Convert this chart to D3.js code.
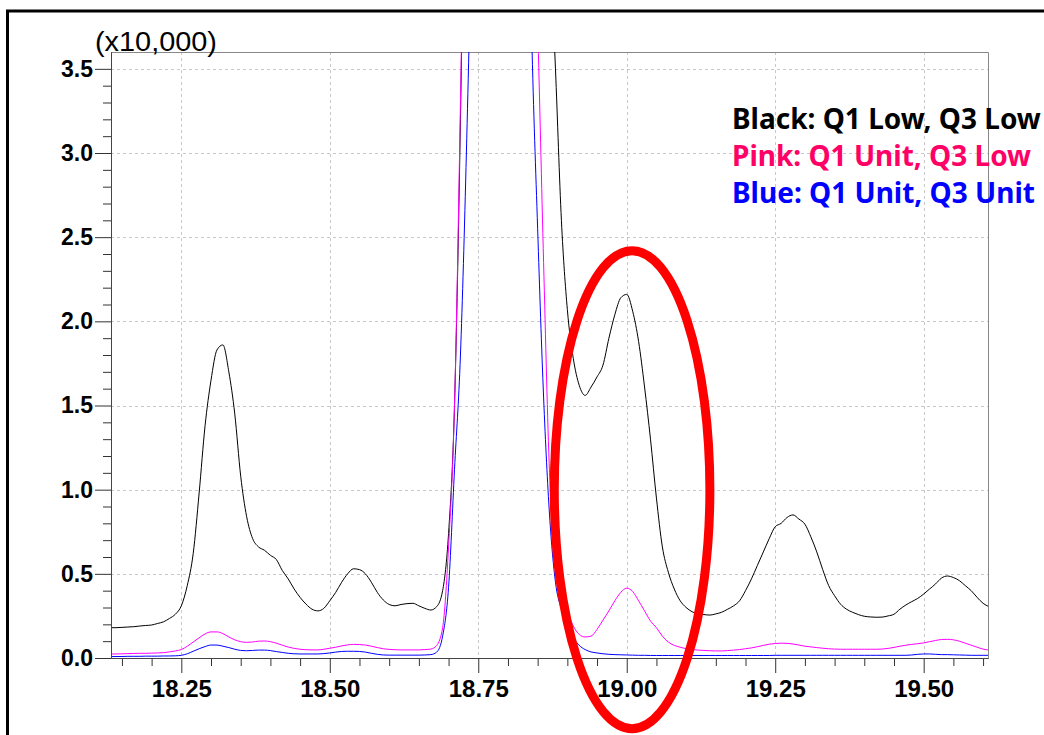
<!DOCTYPE html>
<html>
<head>
<meta charset="utf-8">
<script src="https://cdn.jsdelivr.net/npm/d3@7"></script>
<style>
  body { margin: 0; background: #fff; }
</style>
</head>
<body>
<script>
const canvWidth = 1044, canvHeight = 735;
const plot = {left: 111, right: 988, top: 52, bottom: 658};

// retention time (min)
const times = [
  18.13, 18.14, 18.15, 18.16, 18.17, 18.18, 18.19, 18.20, 18.21, 18.22,
  18.23, 18.24, 18.25, 18.26, 18.27, 18.28, 18.29, 18.30, 18.31, 18.32,
  18.33, 18.34, 18.35, 18.36, 18.37, 18.38, 18.39, 18.40, 18.41, 18.42,
  18.43, 18.44, 18.45, 18.46, 18.47, 18.48, 18.49, 18.50, 18.51, 18.52,
  18.53, 18.54, 18.55, 18.56, 18.57, 18.58, 18.59, 18.60, 18.61, 18.62,
  18.63, 18.64, 18.65, 18.66, 18.67, 18.68, 18.69, 18.70, 18.71, 18.72,
  18.73, 18.74, 18.75, 18.76, 18.77, 18.78, 18.79, 18.80, 18.81, 18.82,
  18.83, 18.84, 18.85, 18.86, 18.87, 18.88, 18.89, 18.90, 18.91, 18.92,
  18.93, 18.94, 18.95, 18.96, 18.97, 18.98, 18.99, 19.00, 19.01, 19.02,
  19.03, 19.04, 19.05, 19.06, 19.07, 19.08, 19.09, 19.10, 19.11, 19.12,
  19.13, 19.14, 19.15, 19.16, 19.17, 19.18, 19.19, 19.20, 19.21, 19.22,
  19.23, 19.24, 19.25, 19.26, 19.27, 19.28, 19.29, 19.30, 19.31, 19.32,
  19.33, 19.34, 19.35, 19.36, 19.37, 19.38, 19.39, 19.40, 19.41, 19.42,
  19.43, 19.44, 19.45, 19.46, 19.47, 19.48, 19.49, 19.50, 19.51, 19.52,
  19.53, 19.54, 19.55, 19.56, 19.57, 19.58, 19.59, 19.60, 19.61
];

// intensities in units of 10,000
const blackQ1LowQ3Low = [
  0.18, 0.18, 0.182, 0.184, 0.186, 0.19, 0.193, 0.196, 0.205, 0.215,
  0.235, 0.26, 0.31, 0.43, 0.62, 0.98, 1.38, 1.65, 1.83, 1.86,
  1.70, 1.45, 1.08, 0.84, 0.71, 0.66, 0.64, 0.61, 0.585, 0.52,
  0.47, 0.41, 0.36, 0.32, 0.29, 0.28, 0.295, 0.34, 0.39, 0.45,
  0.50, 0.53, 0.525, 0.50, 0.45, 0.39, 0.345, 0.318, 0.31, 0.318,
  0.323, 0.325, 0.31, 0.295, 0.285, 0.305, 0.40, 0.74, 1.5, 3.2,
  5.6, 8.5, 11.0, 13.0, 14.0, 14.2, 13.8, 12.8, 11.2, 9.6,
  8.2, 7.0, 6.0, 5.1, 4.3, 3.5, 2.6, 2.07, 1.78, 1.62,
  1.56, 1.61, 1.67, 1.74, 1.90, 2.04, 2.14, 2.16, 2.06, 1.88,
  1.61, 1.30, 0.95, 0.66, 0.51, 0.41, 0.34, 0.30, 0.275, 0.262,
  0.258, 0.255, 0.262, 0.272, 0.29, 0.31, 0.34, 0.40, 0.47, 0.55,
  0.63, 0.71, 0.78, 0.80, 0.835, 0.85, 0.825, 0.795, 0.72, 0.63,
  0.525, 0.43, 0.37, 0.32, 0.29, 0.272, 0.258, 0.248, 0.244, 0.242,
  0.243, 0.25, 0.26, 0.29, 0.315, 0.335, 0.354, 0.38, 0.41, 0.44,
  0.475, 0.487, 0.478, 0.46, 0.43, 0.40, 0.36, 0.325, 0.305
];

const pinkQ1UnitQ3Low = [
  0.024, 0.024, 0.025, 0.026, 0.027, 0.028, 0.028, 0.029, 0.030, 0.032,
  0.036, 0.042, 0.05, 0.07, 0.095, 0.12, 0.143, 0.155, 0.155, 0.145,
  0.125, 0.108, 0.097, 0.093, 0.095, 0.1, 0.101, 0.097, 0.088, 0.076,
  0.065, 0.057, 0.052, 0.049, 0.048, 0.048, 0.052, 0.058, 0.064, 0.072,
  0.078, 0.081, 0.08, 0.077, 0.07, 0.062, 0.055, 0.051, 0.049, 0.048,
  0.048, 0.048, 0.048, 0.05, 0.053, 0.075, 0.18, 0.66, 1.5, 3.3,
  5.6, 8.4, 10.8, 12.6, 13.5, 13.6, 13.0, 11.8, 10.2, 8.5,
  6.6, 4.8, 3.75, 2.35, 1.1, 0.6, 0.40, 0.28, 0.19, 0.14,
  0.125, 0.13, 0.17, 0.225, 0.28, 0.34, 0.39, 0.415, 0.395, 0.34,
  0.28, 0.22, 0.18, 0.13, 0.095, 0.075, 0.064, 0.055, 0.05, 0.047,
  0.045, 0.043, 0.042, 0.042, 0.044, 0.047, 0.05, 0.055, 0.06, 0.067,
  0.075, 0.082, 0.086, 0.088, 0.087, 0.083, 0.077, 0.07, 0.066, 0.062,
  0.058, 0.055, 0.053, 0.052, 0.052, 0.052, 0.052, 0.052, 0.052, 0.052,
  0.053, 0.057, 0.063, 0.07, 0.076, 0.081, 0.085, 0.09, 0.097, 0.104,
  0.11, 0.111, 0.108, 0.1, 0.088, 0.076, 0.064, 0.053, 0.047
];

const blueQ1UnitQ3Unit = [
  0.008, 0.009, 0.009, 0.010, 0.010, 0.010, 0.011, 0.011, 0.011, 0.012,
  0.012, 0.013, 0.016, 0.025, 0.04, 0.055, 0.068, 0.077, 0.077, 0.07,
  0.062, 0.052, 0.045, 0.043, 0.045, 0.047, 0.047, 0.044, 0.038, 0.033,
  0.028, 0.025, 0.024, 0.024, 0.024, 0.024, 0.026, 0.03, 0.035, 0.039,
  0.04, 0.04, 0.039, 0.035, 0.028, 0.022, 0.018, 0.017, 0.017, 0.017,
  0.017, 0.017, 0.017, 0.018, 0.02, 0.035, 0.13, 0.42, 1.12, 1.8,
  3.0, 4.6, 7.0, 9.5, 11.5, 12.2, 11.8, 10.6, 9.0, 7.3,
  5.5, 3.7, 2.55, 1.55, 0.85, 0.45, 0.29, 0.19, 0.12, 0.075,
  0.05, 0.036, 0.03, 0.025, 0.022, 0.02, 0.019, 0.018, 0.017, 0.016,
  0.016, 0.015, 0.015, 0.015, 0.015, 0.015, 0.015, 0.015, 0.015, 0.015,
  0.015, 0.015, 0.015, 0.015, 0.015, 0.015, 0.015, 0.015, 0.015, 0.015,
  0.015, 0.015, 0.016, 0.016, 0.016, 0.016, 0.016, 0.016, 0.016, 0.016,
  0.016, 0.016, 0.016, 0.016, 0.016, 0.016, 0.016, 0.016, 0.016, 0.016,
  0.016, 0.016, 0.016, 0.016, 0.016, 0.018, 0.022, 0.024, 0.024, 0.022,
  0.02, 0.02, 0.019, 0.018, 0.017, 0.016, 0.016, 0.016, 0.016
];

const xTicksMajor = [18.25, 18.50, 18.75, 19.00, 19.25, 19.50];
const xTicksMinor = [18.15, 18.20, 18.30, 18.35, 18.40, 18.45, 18.55, 18.60, 18.65, 18.70,
  18.80, 18.85, 18.90, 18.95, 19.05, 19.10, 19.15, 19.20, 19.30, 19.35, 19.40, 19.45, 19.55, 19.60];
const yTicksMajor = [0.0, 0.5, 1.0, 1.5, 2.0, 2.5, 3.0, 3.5];
const yTicksMinor = [0.1, 0.2, 0.3, 0.4, 0.6, 0.7, 0.8, 0.9, 1.1, 1.2, 1.3, 1.4, 1.6, 1.7, 1.8, 1.9,
  2.1, 2.2, 2.3, 2.4, 2.6, 2.7, 2.8, 2.9, 3.1, 3.2, 3.3, 3.4];

const legendLabels = ["Black: Q1 Low, Q3 Low", "Pink: Q1 Unit, Q3 Low", "Blue: Q1 Unit, Q3 Unit"];
const legendColors = ["#000000", "#ff0066", "#0000ff"];
const lineColors = ["#000000", "#ff00ff", "#0000ff"];
const seriesList = [blackQ1LowQ3Low, blueQ1UnitQ3Unit, pinkQ1UnitQ3Low];
const seriesColors = [lineColors[0], lineColors[2], lineColors[1]];

// highlighted region (time, intensity, half widths)
const highlight = {t: 19.009, v: 1.0, dt: 0.131, dv: 1.42};

const svg = d3.select("body").append("svg")
    .attr("width", canvWidth)
    .attr("height", canvHeight)
    .style("display", "block");

svg.append("rect")
    .attr("x", 7.5).attr("y", 11)
    .attr("width", 1200).attr("height", 900)
    .attr("fill", "none")
    .attr("stroke", "#000")
    .attr("stroke-width", 3);

const xScale = d3.scaleLinear().domain([18.1316, 19.6083]).range([plot.left, plot.right]);
const yScale = d3.scaleLinear().domain([0, 3.6]).range([plot.bottom, plot.top]);

// grid
const grid = svg.append("g").attr("shape-rendering", "crispEdges");
grid.selectAll(".vg").data(xTicksMajor).enter().append("line")
    .attr("x1", d => Math.round(xScale(d)) + 0.5).attr("x2", d => Math.round(xScale(d)) + 0.5)
    .attr("y1", plot.top).attr("y2", plot.bottom)
    .attr("stroke", "#c8c8c8").attr("stroke-dasharray", "3,3");
grid.selectAll(".hg").data(yTicksMajor.slice(1)).enter().append("line")
    .attr("x1", plot.left).attr("x2", plot.right)
    .attr("y1", d => Math.round(yScale(d)) + 0.5).attr("y2", d => Math.round(yScale(d)) + 0.5)
    .attr("stroke", "#c8c8c8").attr("stroke-dasharray", "3,3");

// frame top and right
svg.append("path")
    .attr("d", `M${plot.left},${plot.top + 0.5}H${plot.right + 0.5}V${plot.bottom}`)
    .attr("fill", "none").attr("stroke", "#888");

// traces
svg.append("clipPath").attr("id", "clip").append("rect")
    .attr("x", plot.left).attr("y", plot.top)
    .attr("width", plot.right - plot.left).attr("height", plot.bottom - plot.top);

const line = d3.line()
    .x((d, i) => xScale(times[i]))
    .y(d => yScale(d))
    .curve(d3.curveMonotoneX);

const traces = svg.append("g").attr("clip-path", "url(#clip)");
seriesList.forEach((s, k) => {
  traces.append("path")
      .datum(s)
      .attr("d", line)
      .attr("fill", "none")
      .attr("stroke", seriesColors[k])
      .attr("stroke-width", 1);
});

// axes
const xMinor = d3.axisBottom(xScale).tickValues(xTicksMinor).tickSize(8).tickFormat("").tickSizeOuter(0);
const xMajor = d3.axisBottom(xScale).tickValues(xTicksMajor).tickSize(15).tickPadding(7)
    .tickFormat(d3.format(".2f")).tickSizeOuter(0);
const yMinor = d3.axisLeft(yScale).tickValues(yTicksMinor).tickSize(8).tickFormat("").tickSizeOuter(0);
const yMajor = d3.axisLeft(yScale).tickValues(yTicksMajor).tickSize(16).tickPadding(2)
    .tickFormat(d3.format(".1f")).tickSizeOuter(0);

const gx1 = svg.append("g").attr("transform", `translate(0,${plot.bottom})`).call(xMinor);
const gx2 = svg.append("g").attr("transform", `translate(0,${plot.bottom})`).call(xMajor);
const gy1 = svg.append("g").attr("transform", `translate(${plot.left},0)`).call(yMinor);
const gy2 = svg.append("g").attr("transform", `translate(${plot.left},0)`).call(yMajor);

[gx1, gx2, gy1, gy2].forEach(g => {
  g.selectAll("line").attr("stroke", "#333");
  g.select(".domain").attr("stroke", "#444");
});
gx2.selectAll("text")
    .attr("font-family", "'Liberation Sans', Arial, sans-serif")
    .attr("font-weight", "bold")
    .attr("font-size", "24px")
    .attr("fill", "#000");
gy2.selectAll("text")
    .attr("font-family", "'Liberation Sans', Arial, sans-serif")
    .attr("font-weight", "bold")
    .attr("font-size", "23px")
    .attr("fill", "#000");

svg.append("text")
    .attr("x", 95)
    .attr("y", 51)
    .attr("font-family", "'Liberation Sans', Arial, sans-serif")
    .attr("font-size", "27px")
    .attr("textLength", 122)
    .attr("lengthAdjust", "spacingAndGlyphs")
    .text("(x10,000)");

// legend
svg.append("g").selectAll("text")
    .data(legendLabels)
    .enter().append("text")
    .attr("x", 732)
    .attr("y", (d, i) => 129 + i * 37)
    .attr("font-family", "'Noto Sans', 'Open Sans', sans-serif")
    .attr("font-weight", "bold")
    .attr("font-size", "28px")
    .attr("fill", (d, i) => legendColors[i])
    .text(d => d);

// red ellipse annotation
svg.append("ellipse")
    .attr("cx", xScale(highlight.t))
    .attr("cy", yScale(highlight.v))
    .attr("rx", xScale(highlight.t + highlight.dt) - xScale(highlight.t))
    .attr("ry", yScale(highlight.v - highlight.dv) - yScale(highlight.v))
    .attr("fill", "none")
    .attr("stroke", "#ff0000")
    .attr("stroke-width", 9);
</script>
</body>
</html>
